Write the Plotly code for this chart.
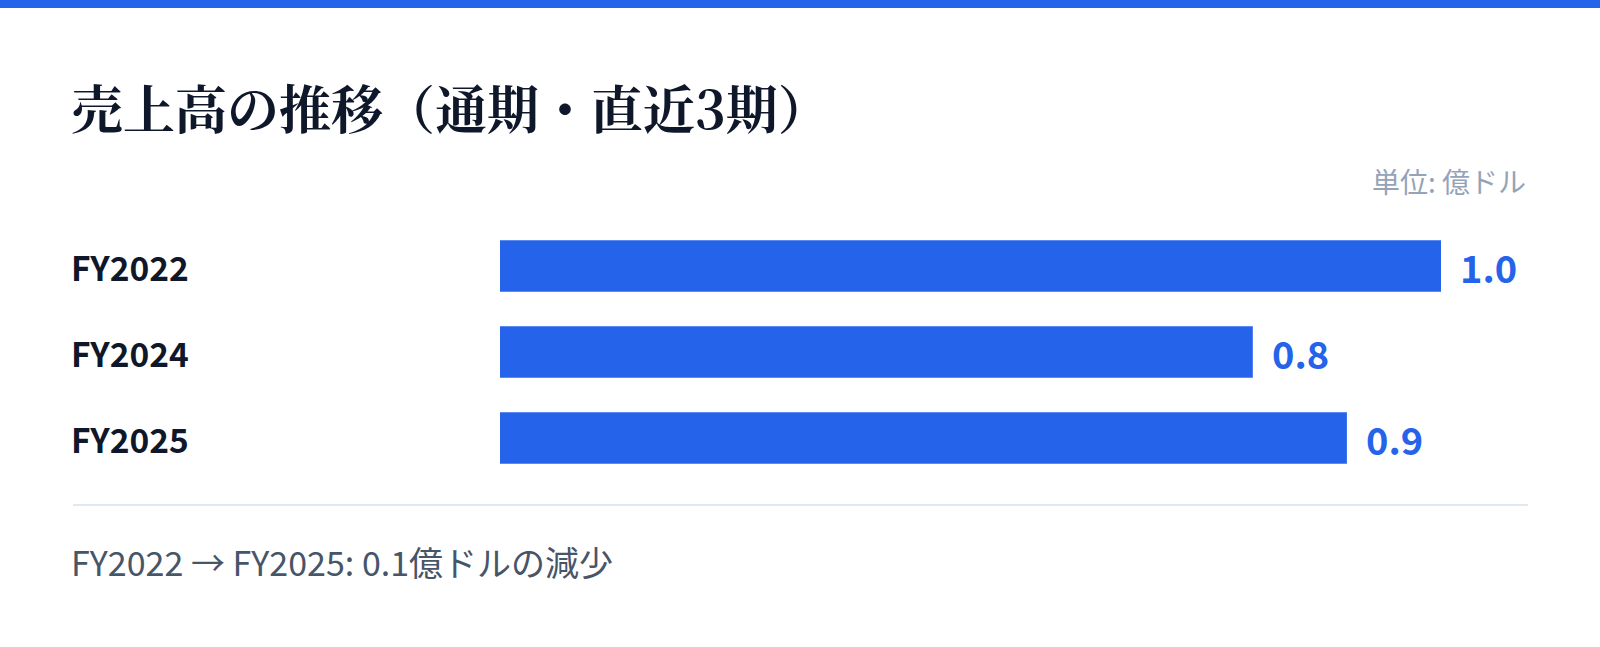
import plotly.graph_objects as go

categories = ["FY2022", "FY2024", "FY2025"]
values = [1.0, 0.8, 0.9]
title_text = "売上高の推移（通期・直近3期）"
unit_text = "単位: 億ドル"

W, H = 1600, 647
BLUE = "#2563eb"
SANS = "Noto Sans CJK JP, Noto Sans, sans-serif"
SERIF = "Noto Serif CJK JP, Liberation Serif, serif"

def py(px):
    return 1 - px / H

def pxx(px):
    return px / W

fig = go.Figure()
fig.add_trace(go.Bar(
    x=values, y=categories, orientation="h",
    marker=dict(color=BLUE, line=dict(width=0)),
    width=0.6, hoverinfo="skip",
))

annotations = []
for c, v in zip(categories, values):
    annotations.append(dict(
        x=pxx(69), xref="paper", y=c, yref="y", text=f"<b>{c}</b>",
        showarrow=False, xanchor="left", yanchor="middle",
        font=dict(family=SANS, size=33.5, color="#0f172a"),
    ))
    annotations.append(dict(
        x=v, xref="x", y=c, yref="y", text=f"<b>{v:.1f}</b>",
        showarrow=False, xanchor="left", yanchor="middle", xshift=17,
        font=dict(family=SANS, size=38, color=BLUE),
    ))

annotations.append(dict(
    x=pxx(69), xref="paper", y=py(107), yref="paper", text=f"<b>{title_text}</b>",
    showarrow=False, xanchor="left", yanchor="middle",
    font=dict(family=SERIF, size=52, color="#0f172a"),
))
annotations.append(dict(
    x=pxx(1528), xref="paper", y=py(181), yref="paper", text=unit_text,
    showarrow=False, xanchor="right", yanchor="middle",
    font=dict(family=SANS, size=28, color="#94a3b8"),
))
diff = values[-1] - values[0]
footer = f"{categories[0]} → {categories[-1]}: {abs(diff):.1f}億ドルの{'減少' if diff < 0 else '増加'}"
annotations.append(dict(
    x=pxx(69), xref="paper", y=py(561), yref="paper", text=footer,
    showarrow=False, xanchor="left", yanchor="middle",
    font=dict(family=SANS, size=34, color="#475569"),
))

shapes = [
    dict(type="rect", xref="paper", yref="paper", x0=0, x1=1, y0=py(8), y1=1,
         fillcolor=BLUE, line=dict(width=0), layer="above"),
    dict(type="line", xref="paper", yref="paper", x0=pxx(73), x1=pxx(1528),
         y0=py(505), y1=py(505), line=dict(color="#e2e8f0", width=2)),
]

fig.update_layout(
    width=W, height=H,
    margin=dict(l=0, r=0, t=0, b=0),
    paper_bgcolor="white", plot_bgcolor="white",
    showlegend=False,
    xaxis=dict(domain=[pxx(500), pxx(1441)], range=[0, max(values)],
               showgrid=False, zeroline=False, showticklabels=False, showline=False,
               fixedrange=True),
    yaxis=dict(domain=[py(481), py(223)], range=[2.5, -0.5],
               showgrid=False, zeroline=False, showticklabels=False, showline=False,
               fixedrange=True),
    annotations=annotations,
    shapes=shapes,
)

fig.write_html("out.html", config={"displayModeBar": False},
               post_script="document.body.style.margin='0px';")
